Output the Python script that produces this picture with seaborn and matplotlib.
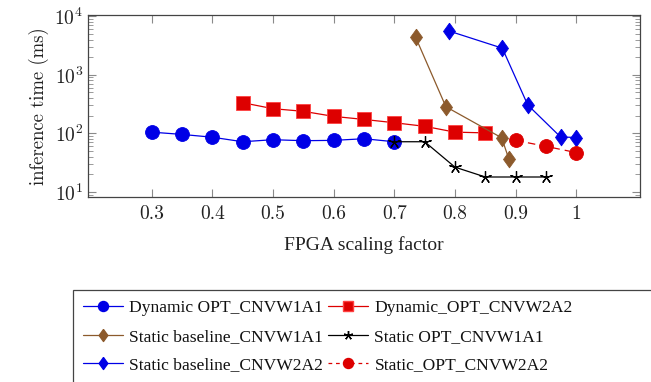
import numpy as np
import pandas as pd
import matplotlib
matplotlib.use("Agg")
import matplotlib.pyplot as plt
import seaborn as sns
from matplotlib.lines import Line2D
from matplotlib.patches import Rectangle

# ---- data ----
x_dyn_w1 = [0.30, 0.35, 0.40, 0.45, 0.50, 0.55, 0.60, 0.65, 0.70]
y_dyn_w1 = [105, 96, 86, 72, 78, 75, 76, 81, 72]

x_dyn_w2 = [0.45, 0.50, 0.55, 0.60, 0.65, 0.70, 0.75, 0.80, 0.85]
y_dyn_w2 = [334, 264, 238, 195, 173, 152, 132, 105, 102]

x_sb_w1 = [0.735, 0.785, 0.877, 0.889]
y_sb_w1 = [4400, 285, 84, 36]

x_sopt_w1 = [0.70, 0.75, 0.80, 0.85, 0.90, 0.95]
y_sopt_w1 = [72, 72, 26.5, 18, 18, 18]

x_sb_w2 = [0.790, 0.878, 0.920, 0.974, 1.000]
y_sb_w2 = [5600, 2850, 305, 87, 85]

x_sopt_w2 = [0.90, 0.95, 1.00]
y_sopt_w2 = [76, 60, 47]

labels = ["Dynamic OPT_CNVW1A1", "Dynamic_OPT_CNVW2A2",
          "Static baseline_CNVW1A1", "Static OPT_CNVW1A1",
          "Static baseline_CNVW2A2", "Static_OPT_CNVW2A2"]
x_ticks = [0.3, 0.4, 0.5, 0.6, 0.7, 0.8, 0.9, 1.0]
x_tick_labels = ["0.3", "0.4", "0.5", "0.6", "0.7", "0.8", "0.9", "1"]

# ---- style ----
sns.set_theme(style="ticks")
plt.rcParams["font.family"] = ["cmr10", "DejaVu Serif"]
plt.rcParams["mathtext.fontset"] = "cm"
plt.rcParams["axes.unicode_minus"] = False
plt.rcParams["axes.formatter.use_mathtext"] = True

BLUE = "#0000e6"
RED = "#dd0000"
BROWN = "#8c5a2c"
BLACK = "#000000"
diamond = [(0, 1), (0.72, 0), (0, -1), (-0.72, 0), (0, 1)]
star = (5, 2, 0)

series = [
    (x_dyn_w1, y_dyn_w1, BLUE, "o", "-", 10, BLUE),
    (x_dyn_w2, y_dyn_w2, RED, "s", "-", 9.5, "#ff4040"),
    (x_sb_w1, y_sb_w1, BROWN, diamond, "-", 12, BROWN),
    (x_sopt_w1, y_sopt_w1, BLACK, star, "-", 9, BLACK),
    (x_sb_w2, y_sb_w2, BLUE, diamond, "-", 12, BLUE),
    (x_sopt_w2, y_sopt_w2, RED, "o", (0, (6, 4)), 10, RED),
]

fig = plt.figure(figsize=(6.51, 3.82), dpi=100)
ax = fig.add_axes([88/651, 1-197/382, (640-88)/651, (197-15)/382])

handles = []
for (xs, ys, col, mk, ls, ms, ec), lab in zip(series, labels):
    df = pd.DataFrame({"x": xs, "y": ys})
    sns.lineplot(data=df, x="x", y="y", ax=ax, color=col, linewidth=0.9,
                 linestyle=ls, marker=mk, markersize=ms,
                 markeredgecolor=ec, markerfacecolor=col if mk != star else "none",
                 markeredgewidth=0.9 if mk == star else 0.6, legend=False)
    hls = (0, (3, 3)) if ls != "-" else "-"
    handles.append(Line2D([], [], color=col, linewidth=0.9, linestyle=hls, marker=mk,
                          markersize=ms*0.72, markerfacecolor=col,
                          markeredgecolor=ec))

ax.set_yscale("log")
ax.set_xlim(0.195, 1.105)
ax.set_ylim(8.2, 1.05e4)
ax.set_xticks(x_ticks)
ax.set_xticklabels(x_tick_labels)
ax.tick_params(axis="both", which="both", direction="in", top=True, right=True,
               color="#8a8a8a", labelsize=14, labelcolor="#222222")
ax.tick_params(axis="both", which="major", length=6, width=0.8)
ax.tick_params(axis="y", which="minor", length=3.5, width=0.6)
ax.tick_params(axis="x", which="major", pad=6)
for s in ax.spines.values():
    s.set_color("#444444")
    s.set_linewidth(0.9)
ax.set_ylabel("inference time (ms)", fontsize=13.5, color="#222222", labelpad=4)
ax.set_xlabel("FPGA scaling factor", fontsize=14, family="Liberation Serif",
              color="#222222", labelpad=9)

# legend: column-major order so rows read as in the reference
order = [0, 2, 4, 1, 3, 5]
leg = fig.legend(handles=[handles[i] for i in order], labels=[labels[i] for i in order],
                 ncol=2, loc="upper left",
                 bbox_to_anchor=(73/651, 1-290/382), frameon=False,
                 prop={"family": "Liberation Serif", "size": 12.6},
                 handlelength=2.3, handletextpad=0.35, columnspacing=0.3,
                 labelspacing=0.72, borderpad=0.55, borderaxespad=0)
for t in leg.get_texts():
    t.set_color("#111111")
# legend frame runs off the right and bottom edges as in the reference
fig.patches.append(Rectangle((73/651, -0.05), 1.0, (1-290/382) + 0.05,
                             transform=fig.transFigure, fill=False,
                             edgecolor="#444444", linewidth=0.9, zorder=0))

fig.savefig("out.png", dpi=100)
